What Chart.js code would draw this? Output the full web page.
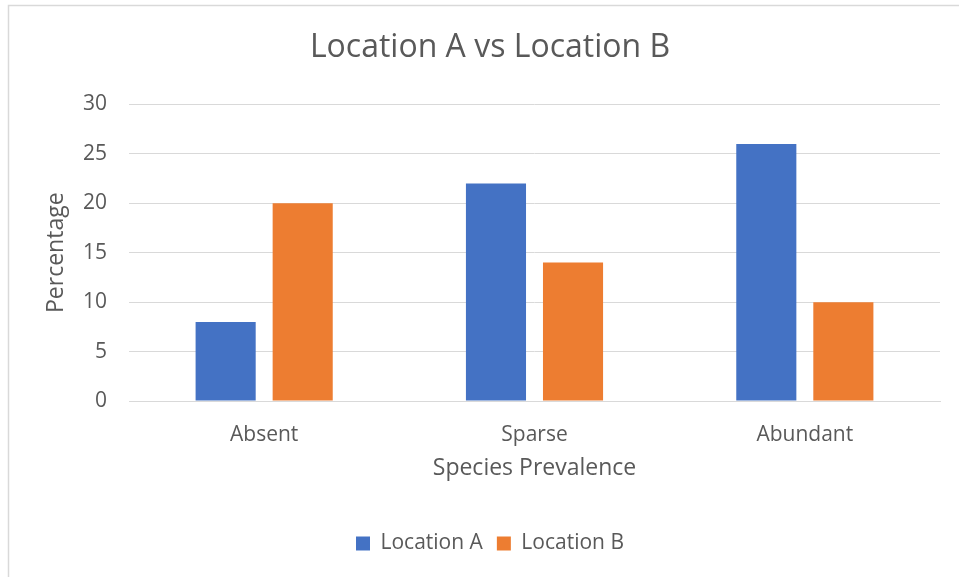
<!DOCTYPE html>
<html>
<head>
<meta charset="utf-8">
<title>Location A vs Location B</title>
<script src="https://cdn.jsdelivr.net/npm/chart.js@4"></script>
<style>
  html, body { margin: 0; padding: 0; background: #ffffff; }
  #wrap { width: 959px; height: 577px; }
</style>
</head>
<body>
<div id="wrap"><canvas id="grafico" width="959" height="577"></canvas></div>
<script>
const categorias = ['Absent', 'Sparse', 'Abundant'];
const locationA = [8, 22, 26];
const locationB = [20, 14, 10];
const yMin = 0, yMax = 30, yStep = 5;

const cinza = '#595959';
const fonte = "'Open Sans', 'Noto Sans', sans-serif";

// moldura cinza em volta do grafico
const moldura = {
    id: 'moldura',
    beforeDraw(chart) {
        const c = chart.ctx;
        c.save();
        c.strokeStyle = '#d9d9d9';
        c.lineWidth = 1.5;
        c.beginPath();
        c.moveTo(8.5, 600);
        c.lineTo(8.5, 5.5);
        c.lineTo(1000, 5.5);
        c.stroke();
        c.restore();
    }
};

Chart.defaults.font.family = fonte;
Chart.defaults.color = cinza;

var ctx = document.getElementById('grafico');
var grafico = new Chart(ctx, {
    type: 'bar',
    data: {
        labels: categorias,
        datasets: [{
            label: 'Location A',
            data: locationA,
            backgroundColor: '#4472C4',
            borderWidth: 0,
            categoryPercentage: 0.57,
            barPercentage: 0.78
        }, {
            label: 'Location B',
            data: locationB,
            backgroundColor: '#ED7D31',
            borderWidth: 0,
            categoryPercentage: 0.57,
            barPercentage: 0.78
        }]
    },
    options: {
        responsive: false,
        animation: false,
        // esquerda maior para centralizar titulo e legenda como no Excel
        layout: { padding: { left: 40, right: 19, top: 0, bottom: 13 } },
        plugins: {
            title: {
                display: true,
                text: 'Location A vs Location B',
                color: cinza,
                font: { size: 32, weight: 'normal' },
                padding: { top: 29, bottom: 37 }
            },
            legend: {
                position: 'bottom',
                labels: {
                    color: cinza,
                    font: { size: 21 },
                    boxWidth: 14,
                    boxHeight: 14,
                    padding: 14
                }
            },
            tooltip: { enabled: false }
        },
        scales: {
            x: {
                grid: { display: false },
                border: { color: '#d9d9d9' },
                ticks: { color: cinza, font: { size: 21 }, padding: 13 },
                title: {
                    display: true,
                    text: 'Species Prevalence',
                    color: cinza,
                    font: { size: 23 },
                    padding: { top: 0, bottom: 37 }
                },
                afterFit(scale) { scale.height = 118; }
            },
            y: {
                min: yMin,
                max: yMax,
                grid: { color: '#d9d9d9', drawTicks: false },
                border: { display: false },
                ticks: { stepSize: yStep, color: cinza, font: { size: 21 }, padding: 22 },
                title: {
                    display: true,
                    text: 'Percentage',
                    color: cinza,
                    font: { size: 23 },
                    padding: { top: 3, bottom: 0 }
                },
                afterFit(scale) { scale.width = 89; }
            }
        }
    },
    plugins: [moldura]
});
</script>
</body>
</html>
